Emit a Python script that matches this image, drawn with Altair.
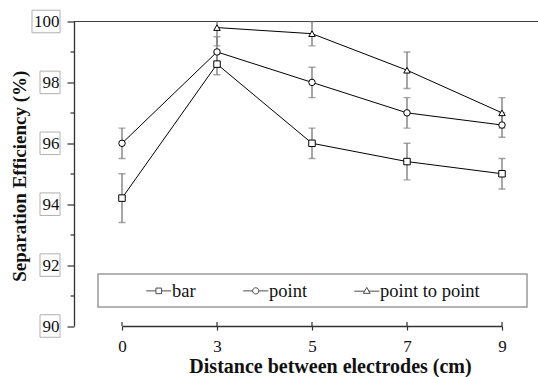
import altair as alt
import pandas as pd

distance = ["0", "3", "5", "7", "9"]
series_names = ["bar", "point", "point to point"]
bar_vals = [94.2, 98.6, 96.0, 95.4, 95.0]
bar_err = [0.8, 0.35, 0.5, 0.6, 0.5]
point_vals = [96.0, 99.0, 98.0, 97.0, 96.6]
point_err = [0.5, 0.5, 0.5, 0.5, 0.4]
ptp_vals = [None, 99.8, 99.6, 98.4, 97.0]
ptp_err = [None, 0.6, 0.4, 0.6, 0.5]
y_labels = [90, 92, 94, 96, 98, 100]

rows = []
for name, vals, errs in zip(series_names, [bar_vals, point_vals, ptp_vals],
                            [bar_err, point_err, ptp_err]):
    for d, v, e in zip(distance, vals, errs):
        if v is None:
            continue
        rows.append({"distance": d, "series": name, "value": v, "err": e})
df = pd.DataFrame(rows)
dist_df = pd.DataFrame({"distance": distance})
lab_df = pd.DataFrame({"v": y_labels})
one = pd.DataFrame({"a": [0]})

W, H = 464, 304.5
FONT = "Liberation Serif"
AX = "#303030"
ERR = "#808080"

x_scale = alt.Scale(type="point", domain=distance, range=[48, 428], padding=0)
x_axis = alt.Axis(
    title="Distance between electrodes (cm)", labelAngle=0, tickSize=4,
    labelPadding=8, titleX=256, titleY=40, titleBaseline="middle",
    titleAlign="center", titleFontSize=20, titleFontWeight="bold",
    labelFont=FONT, titleFont=FONT, labelFontSize=17,
)
y_scale = alt.Scale(domain=[90, 100], nice=False, zero=False)
y_axis = alt.Axis(
    title="Separation Efficiency (%)", values=list(range(90, 101)),
    labelExpr="datum.value % 2 == 0 ? datum.label : ''",
    tickSize={"condition": {"test": "datum.value % 2 == 0", "value": 7}, "value": 4},
    labelPadding=8, grid=False, titleX=-55, titleY=H / 2 + 2, titleAngle=270,
    titleBaseline="middle", titleAlign="center", titleFontSize=19,
    titleFontWeight="bold", labelFont=FONT, titleFont=FONT, labelFontSize=17,
)

X = alt.X("distance:O", sort=distance, scale=x_scale, axis=x_axis)
Yv = alt.Y("value:Q", scale=y_scale, axis=y_axis)

base = alt.Chart(df)

lines = base.mark_line(color="black", strokeWidth=1).encode(
    x=X, y=Yv, detail="series:N",
)

err_rule = base.transform_calculate(
    lo="datum.value - datum.err", hi="datum.value + datum.err"
).mark_rule(color=ERR, strokeWidth=1.4, clip=True).encode(
    x=X, y=alt.Y("lo:Q", scale=y_scale, axis=y_axis), y2="hi:Q"
)
cap_lo = base.transform_calculate(lo="datum.value - datum.err").mark_tick(
    orient="horizontal", size=7, thickness=1.4, color=ERR, clip=True
).encode(x=X, y=alt.Y("lo:Q", scale=y_scale, axis=y_axis))
cap_hi = base.transform_calculate(hi="datum.value + datum.err").mark_tick(
    orient="horizontal", size=7, thickness=1.4, color=ERR, clip=True
).encode(x=X, y=alt.Y("hi:Q", scale=y_scale, axis=y_axis))

points = base.mark_point(
    filled=True, fill="white", stroke="black", strokeWidth=1, size=42, opacity=1
).encode(
    x=X, y=Yv,
    shape=alt.Shape("series:N", scale=alt.Scale(
        domain=series_names, range=["square", "circle", "triangle-up"]), legend=None),
)

sym_sq = "M-2,0H-0.45M0.45,0H2M-0.45,-0.45H0.45V0.45H-0.45Z"
sym_ci = "M-2,0H-0.5M0.5,0H2M0.5,0A0.5,0.5 0 1,1 -0.5,0A0.5,0.5 0 1,1 0.5,0Z"
sym_tr = "M-2,0.05H-0.3M0.3,0.05H2M0,-0.55L0.55,0.4H-0.55Z"

# legend-only layer: its marks are pushed outside the clipped plot area
legend_layer = base.transform_calculate(series_l="datum.series").mark_point(
    filled=False, color="black", strokeWidth=1, clip=True
).encode(
    x=alt.value(-2000),
    y=alt.value(-2000),
    shape=alt.Shape("series_l:N", scale=alt.Scale(
        domain=series_names, range=[sym_sq, sym_ci, sym_tr]),
        legend=alt.Legend(
            title=None, orient="none", legendX=75.5, legendY=260,
            direction="horizontal", labelFont=FONT, labelFontSize=18.5,
            labelColor="#111", columnPadding=44, labelOffset=4,
            symbolSize=156, symbolStrokeWidth=1, symbolFillColor="white",
            symbolStrokeColor="black", padding=0,
        )),
)

inner_ticks = alt.Chart(dist_df).mark_rule(color=AX, strokeWidth=1.2).encode(
    x=X, y=alt.value(H - 4), y2=alt.value(H)
)
top_line = alt.Chart(one).mark_rule(color="#404040", strokeWidth=1.2).encode(
    x=alt.value(0), x2=alt.value(W), y=alt.value(0)
)
legend_frame = alt.Chart(one).mark_rect(
    fill="white", stroke="#9a9a9a", strokeWidth=1.5
).encode(x=alt.value(24), x2=alt.value(453), y=alt.value(252.5), y2=alt.value(285.5))

# light frames around the y tick labels, drawn as four rules each
BOX = "#b0b0b0"
box_src = alt.Chart(lab_df).transform_calculate(
    lo="datum.v - 0.37", hi="datum.v + 0.37"
)


def label_frame(test, left):
    src = box_src.transform_filter(test)
    rule = dict(color=BOX, strokeWidth=1)
    Ylo = alt.Y("lo:Q", scale=y_scale, axis=y_axis)
    Yhi = alt.Y("hi:Q", scale=y_scale, axis=y_axis)
    return [
        src.mark_rule(**rule).encode(y=Yhi, x=alt.value(left), x2=alt.value(-14)),
        src.mark_rule(**rule).encode(y=Ylo, x=alt.value(left), x2=alt.value(-14)),
        src.mark_rule(**rule).encode(x=alt.value(left), y=Ylo, y2="hi:Q"),
        src.mark_rule(**rule).encode(x=alt.value(-14), y=Ylo, y2="hi:Q"),
    ]


frames = label_frame("datum.v >= 100", -42) + label_frame("datum.v < 100", -34)

chart = alt.layer(
    *frames, legend_frame, inner_ticks, top_line,
    err_rule, cap_lo, cap_hi, lines, points, legend_layer,
).resolve_scale(shape="independent").properties(
    width=W, height=H,
    autosize=alt.AutoSizeParams(type="none"),
    padding={"left": 74, "top": 21.5, "right": 0, "bottom": 51},
).configure(font=FONT).configure_view(stroke=None).configure_axis(
    labelFont=FONT, titleFont=FONT, labelFontSize=17, labelColor="#111",
    titleColor="#111", domainColor=AX, tickColor=AX, domainWidth=1.3,
    tickWidth=1.2,
).configure_legend(labelFont=FONT)

chart.save("out.html", embed_options={"renderer": "svg", "actions": False})
